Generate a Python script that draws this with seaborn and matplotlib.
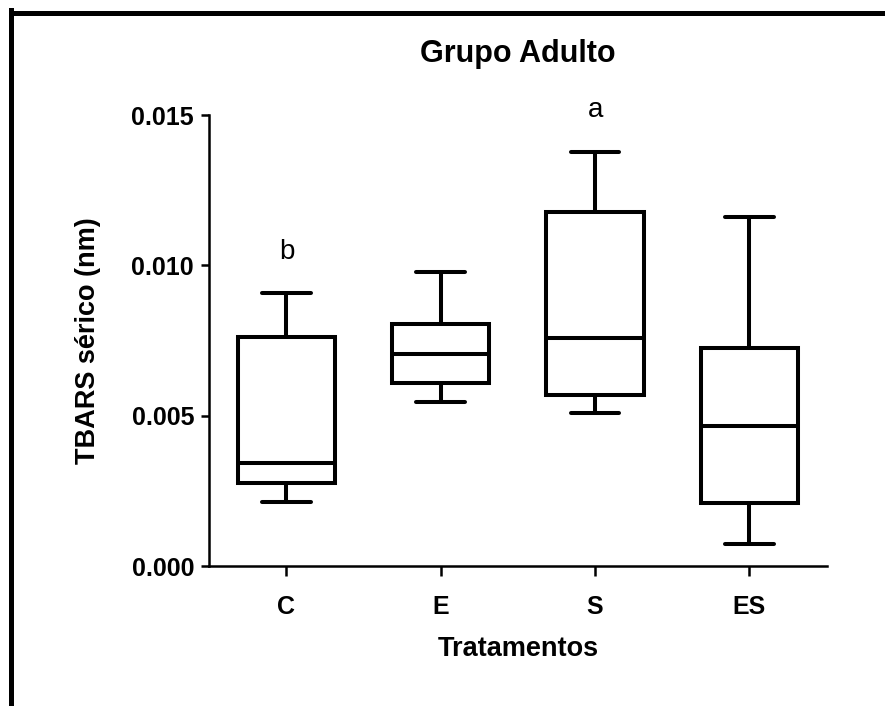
import numpy as np
import pandas as pd
import seaborn as sns
import matplotlib
matplotlib.use("Agg")
import matplotlib.pyplot as plt
from matplotlib.lines import Line2D
from matplotlib.ticker import FormatStrFormatter

# Five-number summaries per treatment: min, Q1, median, Q3, max
groups = ["C", "E", "S", "ES"]
c_vals = [0.00214, 0.00275, 0.00341, 0.00761, 0.00907]
e_vals = [0.00544, 0.00610, 0.00704, 0.00804, 0.00978]
s_vals = [0.00508, 0.00569, 0.00757, 0.01176, 0.01378]
es_vals = [0.00073, 0.00211, 0.00466, 0.00726, 0.01160]
sig_letters = {"C": "b", "S": "a"}

df = pd.DataFrame({
    "Tratamentos": np.repeat(groups, 5),
    "TBARS": c_vals + e_vals + s_vals + es_vals,
})

sns.set_theme(style="ticks")
plt.rcParams["font.family"] = ["Liberation Sans", "DejaVu Sans"]
plt.rcParams["text.color"] = "black"
plt.rcParams["axes.labelcolor"] = "black"

fig = plt.figure(figsize=(8.85, 7.06), dpi=100)
ax = fig.add_axes([0.2365, 0.1983, 0.6975, 0.6387])

lw = 2.9
sns.boxplot(
    data=df, x="Tratamentos", y="TBARS", order=groups, ax=ax,
    whis=(0, 100), width=0.63, color="white", linecolor="black",
    linewidth=lw, fliersize=0,
    boxprops=dict(linewidth=lw, edgecolor="black", facecolor="white"),
    whiskerprops=dict(linewidth=lw, color="black"),
    capprops=dict(linewidth=lw, color="black", solid_capstyle="round"),
    medianprops=dict(linewidth=lw, color="black"),
)

ax.set_xlim(-0.5, 3.5)
ax.set_ylim(0, 0.015)
ax.set_yticks([0.0, 0.005, 0.010, 0.015])
ax.yaxis.set_major_formatter(FormatStrFormatter("%.3f"))

for side in ["top", "right"]:
    ax.spines[side].set_visible(False)
for side in ["left", "bottom"]:
    ax.spines[side].set_linewidth(1.8)
    ax.spines[side].set_color("black")

ax.tick_params(axis="both", width=1.8, color="black",
               labelsize=18, labelcolor="black")
ax.tick_params(axis="x", pad=14, length=7)
ax.tick_params(axis="y", pad=5, length=6)
for lab in ax.get_xticklabels() + ax.get_yticklabels():
    lab.set_fontweight("bold")

ax.set_xlabel("Tratamentos", fontsize=19.5, fontweight="bold", labelpad=12,
              color="black")
ax.set_ylabel("TBARS sérico (nm)", fontsize=19.5, fontweight="bold",
              labelpad=22, color="black")
ax.set_title("Grupo Adulto", fontsize=22, fontweight="bold", pad=38,
             color="black")

# Significance letters above whisker tops
for i, g in enumerate(groups):
    if g in sig_letters:
        top = max(df.loc[df["Tratamentos"] == g, "TBARS"])
        ax.text(i, top + 0.00095, sig_letters[g], ha="center", va="bottom",
                fontsize=20, color="black")

# Outer frame (left and top edges)
W, H = 885, 706
fig.add_artist(Line2D([10.5 / W, 10.5 / W], [0, 1 - 10 / H], color="black",
                      linewidth=3.6, transform=fig.transFigure,
                      solid_capstyle="projecting"))
fig.add_artist(Line2D([10.5 / W, 1.0], [1 - 12.5 / H, 1 - 12.5 / H],
                      color="black", linewidth=3.6, transform=fig.transFigure,
                      solid_capstyle="projecting"))

fig.savefig("out.png", dpi=100, facecolor="white")
